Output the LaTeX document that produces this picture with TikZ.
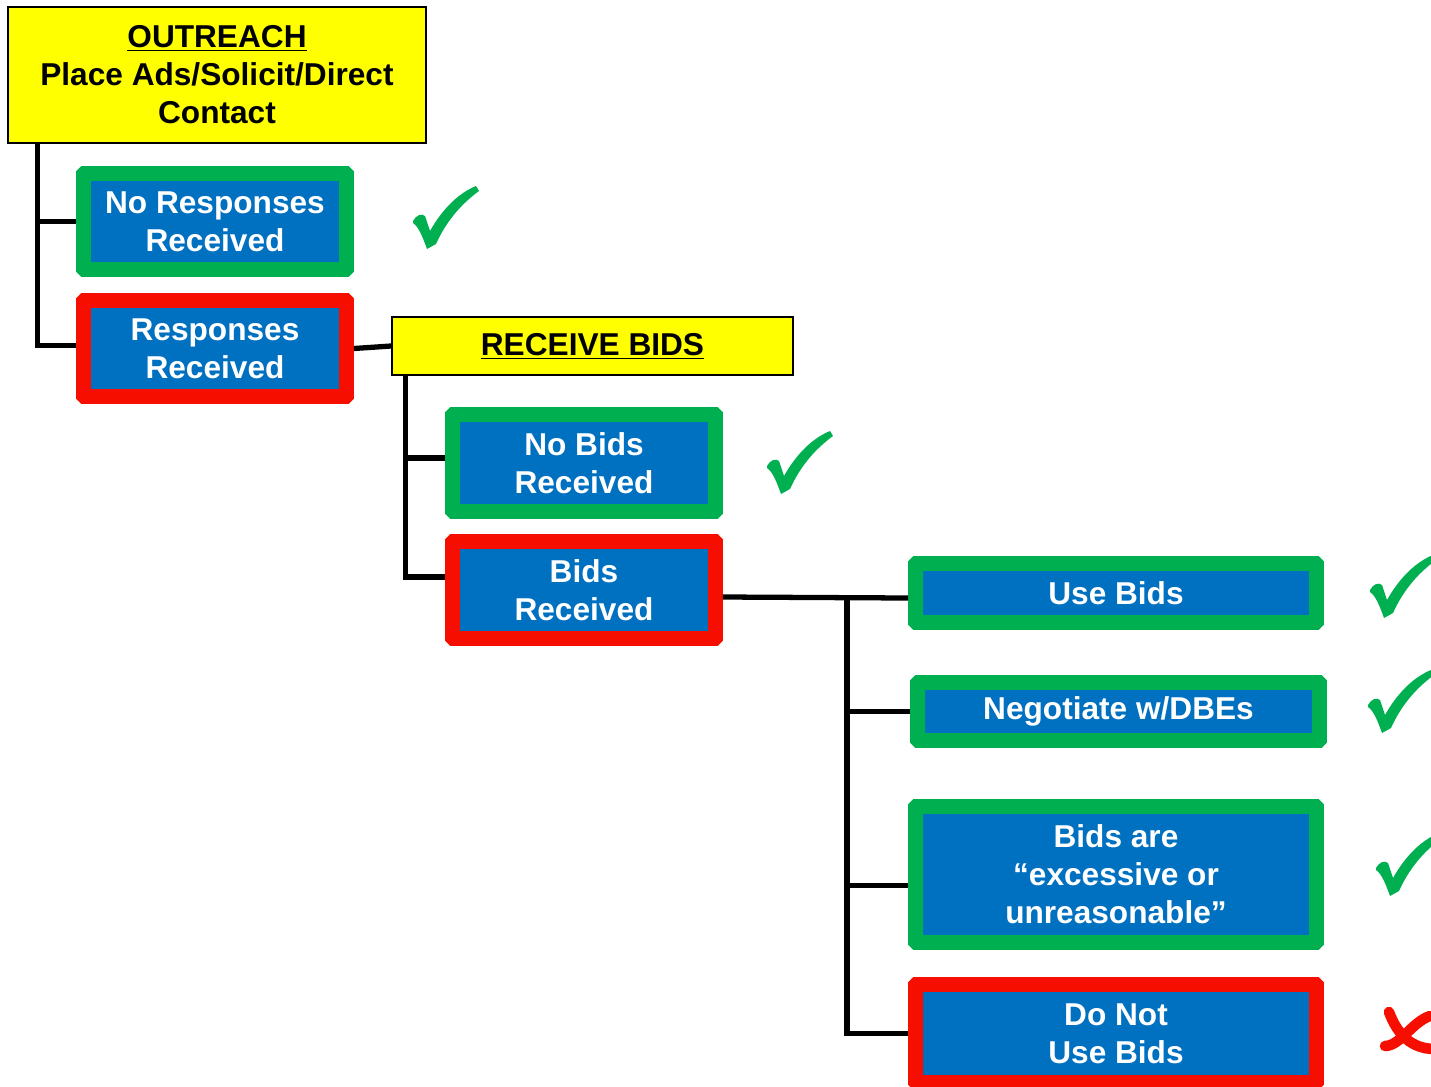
\documentclass[tikz,border=0pt]{standalone}
\usepackage{fontspec}
\setmainfont{Liberation Sans}
\usetikzlibrary{calc}
\definecolor{boxblue}{RGB}{0,112,192}
\definecolor{okgreen}{RGB}{0,176,80}
\definecolor{nored}{RGB}{246,14,0}
\definecolor{hiyellow}{RGB}{255,255,0}
\tikzset{checkmark/.pic={\fill[okgreen] (0,35) .. controls (3,29) and (9,27) .. (12,30) -- (17,45) .. controls (30,22) and (46,7) .. (63,0) -- (66,5) .. controls (47,19) and (33,36) .. (23,58) -- (14,63) .. controls (10,52) and (6,41) .. (0,37) -- cycle;}}

\begin{document}
\begin{tikzpicture}[x=0.02cm, y=-0.02cm, font=\bfseries\fontsize{18}{21.6}\selectfont,
  outcome/.style={draw=#1, line width=8.5pt, rounded corners=0.5pt, fill=boxblue, text=white, align=center, inner sep=0pt, minimum width=5.26cm, minimum height=1.92cm},
  header/.style={draw=black, line width=1pt, fill=hiyellow, align=center, inner sep=0pt},
  link/.style={line width=3pt}]
\useasboundingbox (0,0) rectangle (1431,1086);
\node[header, minimum width=8.36cm, minimum height=2.72cm] (outreach) at (217,75) {\underline{OUTREACH}\\Place Ads/Solicit/Direct\\Contact};
\node[outcome=okgreen] (noresp) at (215,221.5) {No Responses\\Received}; \node[outcome=nored] (resp) at (215,348.5) {Responses\\Received};
\node[header, minimum width=8.02cm, minimum height=1.16cm] (recbids) at (592.5,346) {\underline{RECEIVE BIDS}};
\node[outcome=okgreen, minimum height=1.94cm] (nobids) at (584,463) {No Bids\\Received}; \node[outcome=nored, minimum height=1.94cm] (bidsrec) at (584,590) {Bids\\Received};
\node[outcome=okgreen, minimum width=8.02cm, minimum height=1.18cm] (usebids) at (1116,593) {Use Bids};
\node[outcome=okgreen, minimum width=8.04cm, minimum height=1.16cm] (negot) at (1118.5,711.5) {Negotiate w/DBEs};
\node[outcome=okgreen, minimum width=8.02cm, minimum height=2.72cm] (excess) at (1116,874.5) {Bids are\\``excessive or\\unreasonable''};
\node[outcome=nored, minimum width=8.02cm, minimum height=1.96cm] (donot) at (1116,1033.5) {Do Not\\Use Bids};
\draw[link] ([xshift=0.6cm]outreach.south west) |- (noresp.west); \draw[link] ([xshift=0.6cm]outreach.south west) |- ([yshift=0.06cm]resp.west);
\draw[link] (resp.east) -- (recbids.west);
\draw[link] ([xshift=0.28cm]recbids.south west) |- ([yshift=0.1cm]nobids.west); \draw[link] ([xshift=0.28cm]recbids.south west) |- ([yshift=0.26cm]bidsrec.west);
\coordinate (fork) at (847,598);
\draw[link] ([yshift=-0.14cm]bidsrec.east) -- (fork -| usebids.west);
\draw[link] (fork) |- (negot.west); \draw[link] (fork) |- ([yshift=-0.22cm]excess.west); \draw[link] (fork) |- (donot.west);
\pic at (413,186) {checkmark}; \pic at (767,431) {checkmark}; \pic at (1370,555) {checkmark}; \pic at (1368,670) {checkmark}; \pic at (1376,833) {checkmark};
\draw[nored, line width=6pt, line cap=round] (1389,1012) .. controls (1398,1036) and (1412,1048) .. (1433,1049); \draw[nored, line width=6pt, line cap=round] (1385,1046) .. controls (1400,1046) and (1412,1022) .. (1430,1016);
\end{tikzpicture}
\end{document}
